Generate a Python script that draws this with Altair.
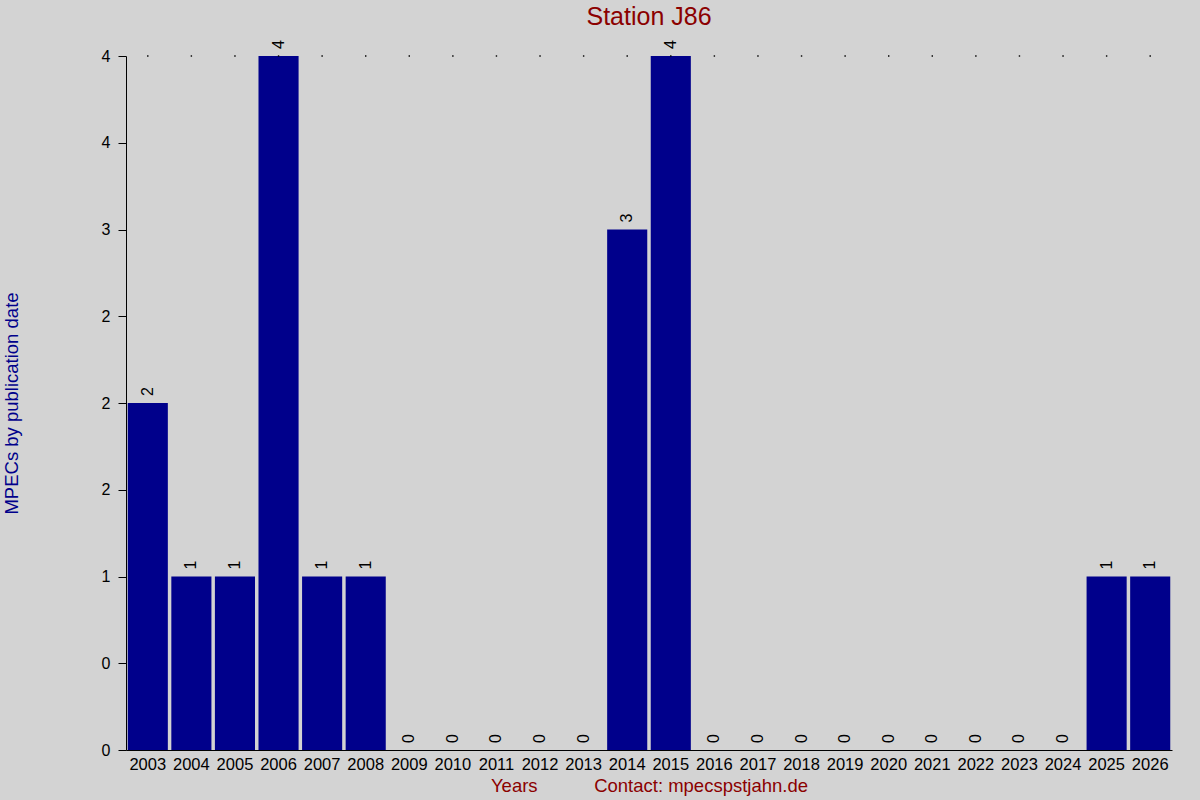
import pandas as pd
import altair as alt

# values
YEARS = [str(y) for y in range(2003, 2027)]
MPECS = [2, 1, 1, 4, 1, 1, 0, 0, 0, 0, 0, 3, 4, 0, 0, 0, 0, 0, 0, 0, 0, 0, 1, 1]
Y_TICKS = [0, 0.5, 1, 1.5, 2, 2.5, 3, 3.5, 4]
Y_TICK_LABELS = ["0", "0", "1", "2", "2", "2", "3", "4", "4"]

FONT = "Liberation Sans"
DARKRED = "#8b0000"
DARKBLUE = "#00008b"
BG = "#d3d3d3"

df = pd.DataFrame({"year": YEARS, "mpecs": MPECS})

label_lookup = "[" + ",".join(f"'{s}'" for s in Y_TICK_LABELS) + "][round(datum.value * 2)]"

x_enc = alt.X(
    "year:N",
    sort=YEARS,
    scale=alt.Scale(paddingInner=0.08, paddingOuter=0.04),
    axis=alt.Axis(
        title="Years\u00a0\u00a0\u00a0\u00a0\u00a0\u00a0\u00a0\u00a0\u00a0\u00a0\u00a0Contact: mpecspstjahn.de",
        titleColor=DARKRED, titleFont=FONT, titleFontSize=18.5, titleFontWeight="normal",
        titlePadding=4,
        labelAngle=0, labelAlign="center", labelFont=FONT, labelFontSize=16.5,
        labelColor="black", labelPadding=6, ticks=False, domainColor="black",
    ),
)

y_scale = alt.Scale(domain=[0, 4], nice=False)

bars = alt.Chart(df).mark_bar(color=DARKBLUE).encode(
    x=x_enc,
    y=alt.Y(
        "mpecs:Q",
        scale=y_scale,
        axis=alt.Axis(
            title="MPECs by publication date",
            titleColor=DARKBLUE, titleFont=FONT, titleFontSize=18.5, titleFontWeight="normal",
            titlePadding=80,
            values=Y_TICKS, labelExpr=label_lookup,
            labelFont=FONT, labelFontSize=16, labelColor="black", labelPadding=8,
            tickSize=8, tickColor="black", domainColor="black", grid=False,
        ),
    ),
)

labels = alt.Chart(df).mark_text(
    angle=270, align="left", baseline="middle", dx=7,
    font=FONT, fontSize=16, color="black",
).encode(
    x=alt.X("year:N", sort=YEARS),
    y=alt.Y("mpecs:Q", scale=y_scale),
    text="mpecs:Q",
)

# dotted line at the top value, one dot per year
dots = alt.Chart(df).transform_joinaggregate(
    top="max(mpecs)"
).mark_square(size=2, color="black", filled=True, opacity=1).encode(
    x=alt.X("year:N", sort=YEARS),
    y=alt.Y("top:Q", scale=y_scale),
)

chart = (bars + labels + dots).properties(
    width=1046,
    height=694,
    autosize=alt.AutoSizeParams(type="none"),
    padding={"left": 126, "top": 56, "right": 28, "bottom": 50},
    background=BG,
    title=alt.TitleParams(
        "Station J86", color=DARKRED, font=FONT, fontSize=25, fontWeight="normal",
        anchor="middle", offset=10,
    ),
).configure_view(stroke=None)

chart.save("out.html", embed_options={"renderer": "svg", "actions": False})

# drop the page margin and paint the page the same grey as the chart
with open("out.html", encoding="utf-8") as f:
    html = f.read()
html = html.replace(
    "<head>", f"<head>\n<style>body {{ margin: 0; background: {BG}; }}</style>", 1
)
with open("out.html", "w", encoding="utf-8") as f:
    f.write(html)
